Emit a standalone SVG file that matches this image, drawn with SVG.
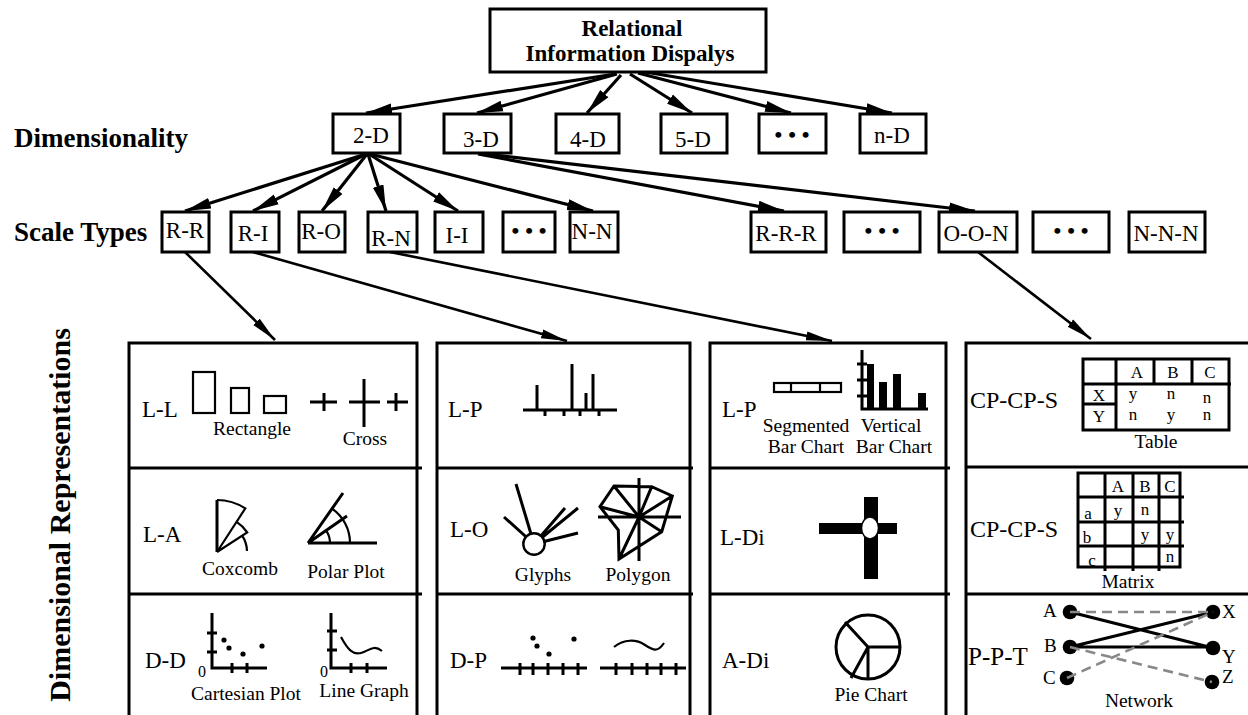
<svg xmlns="http://www.w3.org/2000/svg" width="1248" height="715" viewBox="0 0 1248 715">
<defs>
<style>
text{font-family:"Liberation Serif","Times New Roman",serif;fill:#000}
.bt{font-weight:bold}
.big{font-size:27px;font-weight:bold}
.box{fill:#fff;stroke:#000;stroke-width:3}
.bl{font-size:23px;text-anchor:middle}
.dots{font-size:22px;font-weight:bold;text-anchor:middle;letter-spacing:6px}
.pl{fill:none;stroke:#000;stroke-width:3}
.th{fill:none;stroke:#000;stroke-width:2.2}
.lab{font-size:23px}
.cap{font-size:19.5px;text-anchor:middle}
.sm{font-size:17px;text-anchor:middle}
.zero{font-size:16px}
.con{fill:none;stroke:#000;stroke-width:3.2}
.con2{fill:none;stroke:#000;stroke-width:2.6}
.dash{fill:none;stroke:#888;stroke-width:2.6;stroke-dasharray:10 6}
</style>
<marker id="ah" markerUnits="userSpaceOnUse" markerWidth="28" markerHeight="14" refX="26" refY="7" orient="auto">
<path d="M0,1.5 L26,7 L0,12.5 Z" fill="#000"/>
</marker>
<marker id="ah2" markerUnits="userSpaceOnUse" markerWidth="28" markerHeight="12" refX="26" refY="6" orient="auto">
<path d="M0,1.5 L26,6 L0,10.5 Z" fill="#000"/>
</marker>
</defs>
<rect width="1248" height="715" fill="#fff"/>

<g id="labels">
<text class="big" x="14" y="147">Dimensionality</text>
<text class="big" x="14" y="241">Scale Types</text>
<text class="bt" font-size="30px" text-anchor="middle" transform="translate(70,515) rotate(-90)">Dimensional Representations</text>
</g>

<g id="connectors">
<line class="con" x1="615" y1="74" x2="366" y2="113" marker-end="url(#ah)"/>
<line class="con" x1="617" y1="74" x2="477" y2="113" marker-end="url(#ah)"/>
<line class="con" x1="621" y1="75" x2="587" y2="113" marker-end="url(#ah)"/>
<line class="con" x1="630" y1="74" x2="692" y2="113" marker-end="url(#ah)"/>
<line class="con" x1="638" y1="73" x2="791" y2="113" marker-end="url(#ah)"/>
<line class="con" x1="645" y1="72" x2="892" y2="113" marker-end="url(#ah)"/>
<line class="con" x1="366" y1="154" x2="185" y2="211" marker-end="url(#ah)"/>
<line class="con" x1="366" y1="154" x2="253" y2="211" marker-end="url(#ah)"/>
<line class="con" x1="367" y1="154" x2="322" y2="211" marker-end="url(#ah)"/>
<line class="con" x1="368" y1="154" x2="386" y2="211" marker-end="url(#ah)"/>
<line class="con" x1="369" y1="154" x2="458" y2="211" marker-end="url(#ah)"/>
<line class="con" x1="370" y1="154" x2="593" y2="211" marker-end="url(#ah)"/>
<line class="con" x1="478" y1="154" x2="784" y2="211" marker-end="url(#ah)"/>
<line class="con" x1="486" y1="154" x2="975" y2="211" marker-end="url(#ah)"/>
<line class="con2" x1="185" y1="252" x2="275" y2="340" marker-end="url(#ah2)"/>
<line class="con2" x1="253" y1="252" x2="567" y2="341" marker-end="url(#ah2)"/>
<line class="con2" x1="390" y1="252" x2="832" y2="341" marker-end="url(#ah2)"/>
<line class="con2" x1="978" y1="252" x2="1091" y2="339" marker-end="url(#ah2)"/>
</g>

<g id="root">
<rect class="box" x="490" y="9" width="276" height="63"/>
<text class="bt" font-size="23px" text-anchor="middle" x="632" y="36">Relational</text>
<text class="bt" font-size="23px" text-anchor="middle" x="630" y="61">Information Dispalys</text>
</g>

<g id="dim-2D"><rect class="box" x="333" y="114" width="67" height="39"/><text class="bl" x="371" y="143">2-D</text></g>
<g id="dim-3D"><rect class="box" x="444" y="114" width="67" height="39"/><text class="bl" x="481" y="147">3-D</text></g>
<g id="dim-4D"><rect class="box" x="556" y="114" width="63" height="39"/><text class="bl" x="588" y="147">4-D</text></g>
<g id="dim-5D"><rect class="box" x="661" y="114" width="66" height="39"/><text class="bl" x="693" y="147">5-D</text></g>
<g id="dim-etc"><rect class="box" x="759" y="114" width="67" height="39"/><text class="dots" x="795" y="142">•••</text></g>
<g id="dim-nD"><rect class="box" x="860" y="114" width="66" height="39"/><text class="bl" x="892" y="143">n-D</text></g>

<g id="st-RR"><rect class="box" x="162" y="212" width="47" height="40"/><text class="bl" x="185" y="238">R-R</text></g>
<g id="st-RI"><rect class="box" x="231" y="212" width="48" height="40"/><text class="bl" x="253" y="241">R-I</text></g>
<g id="st-RO"><rect class="box" x="299" y="212" width="46" height="40"/><text class="bl" x="321" y="239">R-O</text></g>
<g id="st-RN"><rect class="box" x="368" y="212" width="49" height="40"/><text class="bl" x="391" y="246">R-N</text></g>
<g id="st-II"><rect class="box" x="435" y="212" width="48" height="40"/><text class="bl" x="457" y="243">I-I</text></g>
<g id="st-etc1"><rect class="box" x="503" y="212" width="52" height="40"/><text class="dots" x="532" y="238">•••</text></g>
<g id="st-NN"><rect class="box" x="570" y="212" width="48" height="40"/><text class="bl" x="592" y="239">N-N</text></g>
<g id="st-RRR"><rect class="box" x="751" y="212" width="75" height="40"/><text class="bl" x="786" y="241">R-R-R</text></g>
<g id="st-etc2"><rect class="box" x="844" y="212" width="76" height="40"/><text class="dots" x="885" y="238">•••</text></g>
<g id="st-OON"><rect class="box" x="939" y="212" width="78" height="40"/><text class="bl" x="976" y="241">O-O-N</text></g>
<g id="st-etc3"><rect class="box" x="1033" y="212" width="76" height="40"/><text class="dots" x="1074" y="238">•••</text></g>
<g id="st-NNN"><rect class="box" x="1129" y="212" width="76" height="40"/><text class="bl" x="1166" y="241">N-N-N</text></g>

<g id="panel-1">
<path class="pl" d="M129,716 V343 H417 V716 M129,468 H422 M129,594 H422"/>
<g id="cell-LL">
<text class="lab" x="142" y="417">L-L</text>
<rect class="th" x="193" y="372" width="22" height="41"/>
<rect class="th" x="231" y="388" width="18" height="25"/>
<rect class="th" x="264" y="396" width="22" height="17"/>
<text class="cap" x="252" y="435">Rectangle</text>
<path class="pl" d="M310,402 H337 M324,393 V411 M349,402 H380 M364,379 V427 M387,402 H408 M396,393 V411"/>
<text class="cap" x="365" y="445">Cross</text>
</g>
<g id="cell-LA">
<text class="lab" x="143" y="542">L-A</text>
<path class="pl" d="M217,552 V500"/>
<path class="th" d="M217,500 A52,52 0 0 1 245.3,508.4 L217,552 M236.6,521.8 A36,36 0 0 1 247.2,532.4 L217,552 M242.2,535.7 A30,30 0 0 1 247,551"/>
<text class="cap" x="240" y="575">Coxcomb</text>
<path class="pl" d="M308,543 H377 M308,543 L343,493 M308,543 L347,516"/>
<path class="th" d="M332,508.6 A42,42 0 0 1 350,543 M326,530.4 A22,22 0 0 1 330,543"/>
<text class="cap" x="346" y="578">Polar Plot</text>
</g>
<g id="cell-DD">
<text class="lab" x="145" y="668">D-D</text>
<path class="pl" d="M212,613 V668 H267 M207,633 H217 M207,652 H217 M232,663 V673 M247,663 V673"/>
<circle cx="224" cy="640" r="2.6"/><circle cx="229" cy="648" r="2.6"/><circle cx="243" cy="654" r="2.6"/><circle cx="262" cy="646" r="2.6"/>
<text class="zero" x="198" y="677">0</text>
<text class="cap" x="246" y="700">Cartesian Plot</text>
<path class="pl" d="M331,613 V668 H387 M327,631 H337 M327,650 H337 M351,663 V673 M367,663 V673"/>
<path class="th" d="M341,637 C348,650 353,655 361,653 S373,644 382,651"/>
<text class="zero" x="320" y="677">0</text>
<text class="cap" x="364" y="697">Line Graph</text>
</g>
</g>

<g id="panel-2">
<path class="pl" d="M437,716 V343 H690 V716 M437,468 H693 M437,594 H693"/>
<g id="cell-LP1">
<text class="lab" x="448" y="417">L-P</text>
<path class="pl" d="M523,410 H617 M545,410 V416 M564,410 V416 M580,410 V416 M599,410 V416 M537,410 V385 M572,410 V364 M586,410 V393 M593,410 V374"/>
</g>
<g id="cell-LO">
<text class="lab" x="450" y="537">L-O</text>
<path class="pl" d="M534,544 L504,517 M534,544 L516,484 M534,544 L565,508 M534,544 L578,508 M534,544 L578,533"/>
<circle cx="534" cy="544" r="10.7" fill="#fff" stroke="#000" stroke-width="2.4"/>
<text class="cap" x="543" y="581">Glyphs</text>
<path class="pl" d="M598,517 H681 M639,478 V561 M614,486 L651.7,486.7 L672.3,496 L661.7,531.7 L619,559 L618.3,530 L600,506.7 Z M639,517 L614,486 M639,517 L651.7,486.7 M639,517 L672.3,496 M639,517 L600,506.7 M639,517 L661.7,531.7 M639,517 L619,559"/>
<text class="cap" x="638" y="581">Polygon</text>
</g>
<g id="cell-DP">
<text class="lab" x="450" y="668">D-P</text>
<path class="pl" d="M501,668 H587 M520,663 V675 M533,663 V675 M548,663 V675 M563,663 V675 M578,663 V675"/>
<circle cx="533" cy="638" r="2.6"/><circle cx="537" cy="646" r="2.6"/><circle cx="549" cy="654" r="2.6"/><circle cx="574" cy="639" r="2.6"/>
<path class="pl" d="M600,668 H686 M616,663 V675 M632,663 V675 M647,663 V675 M661,663 V675 M676,663 V675"/>
<path class="th" d="M614,647 C624,639 636,639 645,645 S658,652 664,643"/>
</g>
</g>

<g id="panel-3">
<path class="pl" d="M710,716 V343 H946 V716 M710,468 H950 M710,594 H950"/>
<g id="cell-LP2">
<text class="lab" x="722" y="417">L-P</text>
<rect class="th" x="774" y="383" width="67" height="9"/>
<path class="th" d="M791,383 V392 M820,383 V392"/>
<text class="cap" x="806" y="432">Segmented</text>
<text class="cap" x="806" y="453">Bar Chart</text>
<path class="pl" d="M862,350 V409 H928 M857,364 H867 M857,380 H867 M857,396 H867"/>
<rect x="867" y="364" width="7" height="45"/><rect x="879" y="382" width="8" height="27"/><rect x="893" y="374" width="8" height="35"/><rect x="918" y="393" width="8" height="16"/>
<text class="cap" x="891" y="432">Vertical</text>
<text class="cap" x="894" y="453">Bar Chart</text>
</g>
<g id="cell-LDi">
<text class="lab" x="720" y="545">L-Di</text>
<rect x="864" y="497" width="14" height="82"/>
<rect x="819" y="523" width="78" height="11"/>
<ellipse cx="870" cy="528" rx="8.5" ry="11" fill="#fff" stroke="#000" stroke-width="1.5"/>
</g>
<g id="cell-ADi">
<text class="lab" x="722" y="668">A-Di</text>
<circle cx="868" cy="647" r="32" class="pl"/>
<path class="pl" d="M868,647 H901 M868,647 L845,622 M868,647 L851,678 M868,647 V679"/>
<text class="cap" x="871" y="701">Pie Chart</text>
</g>
</g>

<g id="panel-4">
<path class="pl" d="M966,716 V343 H1250 M966,467 H1250 M966,594 H1250"/>
<g id="cell-table">
<text font-size="24px" x="970" y="408">CP-CP-S</text>
<path class="pl" d="M1083,359 H1229 V430 H1083 Z M1083,384 H1231 M1116,359 V430 M1154,359 V384 M1192,359 V384 M1083,404 H1116"/>
<text class="sm" font-size="18px" x="1137" y="378">A</text>
<text class="sm" font-size="18px" x="1173" y="378">B</text>
<text class="sm" font-size="18px" x="1210" y="378">C</text>
<text class="sm" font-size="18px" x="1099" y="401">X</text>
<text class="sm" font-size="18px" x="1099" y="422">Y</text>
<text class="sm" x="1133" y="399">y</text>
<text class="sm" x="1171" y="399">n</text>
<text class="sm" x="1207" y="403">n</text>
<text class="sm" x="1133" y="420">n</text>
<text class="sm" x="1171" y="420">y</text>
<text class="sm" x="1207" y="420">n</text>
<text class="cap" x="1156" y="448">Table</text>
</g>
<g id="cell-matrix">
<text font-size="24px" x="970" y="537">CP-CP-S</text>
<path class="pl" d="M1078,473 H1180 V567 H1078 Z M1105,473 V571 M1133,473 V571 M1159,473 V571 M1078,497 H1184 M1078,522 H1184 M1078,546 H1184"/>
<text class="sm" font-size="18px" x="1118" y="492">A</text>
<text class="sm" font-size="18px" x="1145" y="492">B</text>
<text class="sm" font-size="18px" x="1170" y="492">C</text>
<text class="sm" font-size="19px" x="1088" y="519">a</text>
<text class="sm" font-size="19px" x="1087" y="543">b</text>
<text class="sm" font-size="19px" x="1092" y="566">c</text>
<text class="sm" x="1118" y="516">y</text>
<text class="sm" x="1145" y="515">n</text>
<text class="sm" x="1145" y="540">y</text>
<text class="sm" x="1170" y="540">y</text>
<text class="sm" x="1170" y="562">n</text>
<text class="cap" x="1128" y="588">Matrix</text>
</g>
<g id="cell-network">
<text font-size="25px" x="968" y="665">P-P-T</text>
<path class="pl" d="M1070,612 L1213,648 M1070,647 L1213,612 M1070,647 H1213"/>
<circle cx="1070" cy="612" r="7.3"/><circle cx="1070" cy="647" r="7.3"/><circle cx="1067" cy="678" r="7.3"/>
<circle cx="1213" cy="612" r="7.3"/><circle cx="1213" cy="648" r="7.3"/><circle cx="1212" cy="682" r="7.3"/>
<path class="dash" d="M1070,612 H1213 M1067,678 L1213,612 M1070,647 L1212,682"/>
<text font-size="19px" x="1043" y="617">A</text>
<text font-size="19px" x="1044" y="652">B</text>
<text font-size="19px" x="1043" y="684">C</text>
<text font-size="19px" x="1222" y="618">X</text>
<text font-size="19px" x="1222" y="663">Y</text>
<text font-size="19px" x="1222" y="683">Z</text>
<text class="cap" x="1139" y="707">Network</text>
</g>
</g>
</svg>
